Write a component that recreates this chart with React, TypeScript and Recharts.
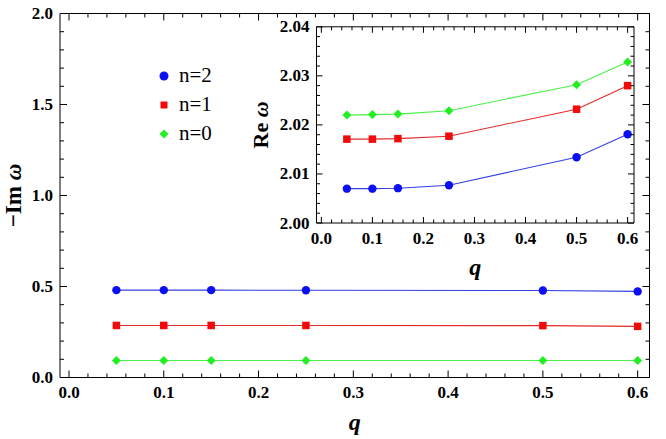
import React from 'react';
import { LineChart, Line, XAxis, YAxis, Legend } from 'recharts';

// ---------- data ----------
const qValues = [0.05, 0.1, 0.15, 0.25, 0.5, 0.6];
const imN2 = [0.48, 0.48, 0.48, 0.479, 0.478, 0.473];
const imN1 = [0.286, 0.286, 0.286, 0.286, 0.285, 0.281];
const imN0 = [0.093, 0.093, 0.093, 0.093, 0.093, 0.093];
const reN2 = [2.007, 2.007, 2.0071, 2.0077, 2.0134, 2.0181];
const reN1 = [2.0171, 2.0171, 2.0172, 2.0177, 2.0232, 2.028];
const reN0 = [2.022, 2.0221, 2.0222, 2.0229, 2.0282, 2.0328];

const seriesNames = ['n=2', 'n=1', 'n=0'];
const seriesKeys = ['n2', 'n1', 'n0'];

const xMajor = [0, 0.1, 0.2, 0.3, 0.4, 0.5, 0.6];
const xMinor = [0.02, 0.04, 0.06, 0.08, 0.12, 0.14, 0.16, 0.18, 0.22, 0.24, 0.26, 0.28, 0.32, 0.34, 0.36, 0.38, 0.42, 0.44, 0.46, 0.48, 0.52, 0.54, 0.56, 0.58];
const mainYMajor = [0, 0.5, 1, 1.5, 2];
const mainYMinor = [0.1, 0.2, 0.3, 0.4, 0.6, 0.7, 0.8, 0.9, 1.1, 1.2, 1.3, 1.4, 1.6, 1.7, 1.8, 1.9];
const insetYMajor = [2, 2.01, 2.02, 2.03, 2.04];
const insetYMinor = [2.002, 2.004, 2.006, 2.008, 2.012, 2.014, 2.016, 2.018, 2.022, 2.024, 2.026, 2.028, 2.032, 2.034, 2.036, 2.038];

const mainData = qValues.map((q, i) => ({ q, n2: imN2[i], n1: imN1[i], n0: imN0[i] }));
const insetData = qValues.map((q, i) => ({ q, n2: reN2[i], n1: reN1[i], n0: reN0[i] }));

// ---------- styles ----------
const FONT = "'Liberation Serif', 'Times New Roman', serif";
const BLUE_LINE = '#3340e0';
const BLUE_DOT = '#0a10f2';
const RED_LINE = '#e22a2a';
const RED_DOT = '#f20a0a';
const GREEN_LINE = '#4af04a';
const GREEN_DOT = '#22ee22';
const X_DOMAIN: [number, number] = [-0.0095, 0.6125];
const TICK_FS = 17;

type Side = 'bottom' | 'top' | 'left' | 'right';

function makeTick(side: Side, majors: number[], fmt: ((v: number) => string) | null, majorLen: number, minorLen: number, gap: number, fontSize: number) {
  return (props: any) => {
    const { x, y, payload } = props;
    const v = payload.value;
    const isMajor = majors.some((m) => Math.abs(m - v) < 1e-9);
    const len = isMajor ? majorLen : minorLen;
    let line: any = null;
    let label: any = null;
    if (side === 'bottom') {
      line = <line x1={x} x2={x} y1={y} y2={y - len} stroke="#000" strokeWidth={1} />;
      if (fmt && isMajor)
        label = (
          <text x={x} y={y + gap} textAnchor="middle" dominantBaseline="central" fontFamily={FONT} fontWeight="bold" fontSize={fontSize} fill="#000">
            {fmt(v)}
          </text>
        );
    } else if (side === 'top') {
      line = <line x1={x} x2={x} y1={y} y2={y + len} stroke="#000" strokeWidth={1} />;
    } else if (side === 'left') {
      line = <line x1={x} x2={x + len} y1={y} y2={y} stroke="#000" strokeWidth={1} />;
      if (fmt && isMajor)
        label = (
          <text x={x - gap} y={y} textAnchor="end" dominantBaseline="central" fontFamily={FONT} fontWeight="bold" fontSize={fontSize} fill="#000">
            {fmt(v)}
          </text>
        );
    } else {
      line = <line x1={x} x2={x - len} y1={y} y2={y} stroke="#000" strokeWidth={1} />;
    }
    return (
      <g>
        {line}
        {label}
      </g>
    );
  };
}

const circleDot = (color: string, r: number) => (p: any) => <circle key={`c${p.index}`} cx={p.cx} cy={p.cy} r={r} fill={color} stroke="none" />;
const squareDot = (color: string, s: number) => (p: any) => (
  <rect key={`s${p.index}`} x={p.cx - s / 2} y={p.cy - s / 2} width={s} height={s} fill={color} stroke="none" />
);
const diamondDot = (color: string, s: number) => (p: any) => (
  <polygon
    key={`d${p.index}`}
    points={`${p.cx},${p.cy - s / 2} ${p.cx + s / 2},${p.cy} ${p.cx},${p.cy + s / 2} ${p.cx - s / 2},${p.cy}`}
    fill={color}
    stroke="none"
  />
);

const legendMarkers: Record<string, (cx: number, cy: number) => any> = {
  n2: (cx, cy) => <circle cx={cx} cy={cy} r={4.5} fill={BLUE_DOT} />,
  n1: (cx, cy) => <rect x={cx - 3.5} y={cy - 3.5} width={7} height={7} fill={RED_DOT} />,
  n0: (cx, cy) => <polygon points={`${cx},${cy - 4.5} ${cx + 4.5},${cy} ${cx},${cy + 4.5} ${cx - 4.5},${cy}`} fill={GREEN_DOT} />,
};

const LegendContent = (props: any) => {
  const payload = [...(props.payload || [])].sort((a: any, b: any) => seriesKeys.indexOf(a.dataKey) - seriesKeys.indexOf(b.dataKey));
  return (
    <div style={{ fontFamily: FONT }}>
      {payload.map((entry: any) => (
        <div key={entry.dataKey} style={{ display: 'flex', alignItems: 'center', height: 29 }}>
          <svg width={14} height={14} style={{ marginRight: 8 }}>
            {legendMarkers[entry.dataKey](7, 7)}
          </svg>
          <span style={{ fontSize: 21, color: '#000', lineHeight: '21px' }}>{entry.value}</span>
        </div>
      ))}
    </div>
  );
};

const allX = [...xMajor, ...xMinor].sort((a, b) => a - b);
const mainYTicks = [...mainYMajor, ...mainYMinor].sort((a, b) => a - b);
const insetYTicks = [...insetYMajor, ...insetYMinor].sort((a, b) => a - b);

function axesSet(yMajor: number[], yTicks: number[], yDomain: [number, number], yFmt: (v: number) => string, majorLen: number, minorLen: number, xLabel: any, yLabel: any) {
  return [
    <XAxis
      key="xb"
      xAxisId="b"
      dataKey="q"
      type="number"
      domain={X_DOMAIN}
      allowDataOverflow
      ticks={allX}
      interval={0}
      height={1}
      tickSize={0}
      tickMargin={0}
      tickLine={false}
      axisLine={{ stroke: '#000', strokeWidth: 1 }}
      tick={makeTick('bottom', xMajor, (v) => v.toFixed(1), majorLen, minorLen, 15, TICK_FS)}
      label={xLabel}
    />,
    <XAxis
      key="xt"
      xAxisId="t"
      orientation="top"
      dataKey="q"
      type="number"
      domain={X_DOMAIN}
      allowDataOverflow
      ticks={allX}
      interval={0}
      height={1}
      tickSize={0}
      tickMargin={0}
      tickLine={false}
      axisLine={{ stroke: '#000', strokeWidth: 1 }}
      tick={makeTick('top', xMajor, null, majorLen, minorLen, 0, TICK_FS)}
    />,
    <YAxis
      key="yl"
      yAxisId="l"
      type="number"
      domain={yDomain}
      allowDataOverflow
      ticks={yTicks}
      interval={0}
      width={1}
      tickSize={0}
      tickMargin={0}
      tickLine={false}
      axisLine={{ stroke: '#000', strokeWidth: 1 }}
      tick={makeTick('left', yMajor, yFmt, majorLen, minorLen, 7, TICK_FS)}
      label={yLabel}
    />,
    <YAxis
      key="yr"
      yAxisId="r"
      orientation="right"
      type="number"
      domain={yDomain}
      allowDataOverflow
      ticks={yTicks}
      interval={0}
      width={1}
      tickSize={0}
      tickMargin={0}
      tickLine={false}
      axisLine={{ stroke: '#000', strokeWidth: 1 }}
      tick={makeTick('right', yMajor, null, majorLen, minorLen, 0, TICK_FS)}
    />,
  ];
}

const qLabel = (dy: number) => (props: any) => {
  const vb = props.viewBox || {};
  return (
    <text x={vb.x + vb.width / 2} y={vb.y + dy} textAnchor="middle" dominantBaseline="central" fontFamily={FONT} fontWeight="bold" fontStyle="italic" fontSize={24} fill="#000">
      q
    </text>
  );
};

const yLabelFn = (prefix: string, dx: number, size: number) => (props: any) => {
  const vb = props.viewBox || {};
  const cx = vb.x + vb.width + dx;
  const cy = vb.y + vb.height / 2;
  return (
    <text x={cx} y={cy} transform={`rotate(-90 ${cx} ${cy})`} textAnchor="middle" dominantBaseline="central" fontFamily={FONT} fontWeight="bold" fontSize={size} fill="#000">
      {prefix}
      <tspan fontStyle="italic">ω</tspan>
    </text>
  );
};

function seriesLines() {
  return [
    <Line key="n2" xAxisId="b" yAxisId="l" dataKey="n2" name={seriesNames[0]} type="linear" stroke={BLUE_LINE} strokeWidth={1.1} dot={circleDot(BLUE_DOT, 4.2)} isAnimationActive={false} />,
    <Line key="n1" xAxisId="b" yAxisId="l" dataKey="n1" name={seriesNames[1]} type="linear" stroke={RED_LINE} strokeWidth={1.1} dot={squareDot(RED_DOT, 7.5)} isAnimationActive={false} />,
    <Line key="n0" xAxisId="b" yAxisId="l" dataKey="n0" name={seriesNames[2]} type="linear" stroke={GREEN_LINE} strokeWidth={1.1} dot={diamondDot(GREEN_DOT, 9)} isAnimationActive={false} />,
  ];
}

export default function App() {
  return (
    <div style={{ position: 'absolute', left: 0, top: 0, width: 666, height: 439, background: '#fff' }}>
      <div style={{ position: 'absolute', left: 0, top: 0 }}>
        <LineChart width={666} height={439} data={mainData} margin={{ top: 12.5, left: 59, right: 15.5, bottom: 60.5 }}>
          {axesSet(mainYMajor, mainYTicks, [0, 2], (v) => v.toFixed(1), 7, 4, qLabel(44), yLabelFn('−Im ', -47, 23))}
          {seriesLines()}
          <Legend layout="vertical" align="center" verticalAlign="middle" content={LegendContent} wrapperStyle={{ position: 'absolute', left: 157, top: 61, width: 90, height: 90 }} />
        </LineChart>
      </div>
      <div style={{ position: 'absolute', left: 0, top: 0 }}>
        <LineChart width={666} height={439} data={insetData} margin={{ top: 25.8, left: 315.5, right: 31, bottom: 215 }}>
          {axesSet(insetYMajor, insetYTicks, [2, 2.04], (v) => v.toFixed(2), 6, 3.5, qLabel(44), yLabelFn('Re ', -56, 22))}
          {seriesLines()}
        </LineChart>
      </div>
    </div>
  );
}
